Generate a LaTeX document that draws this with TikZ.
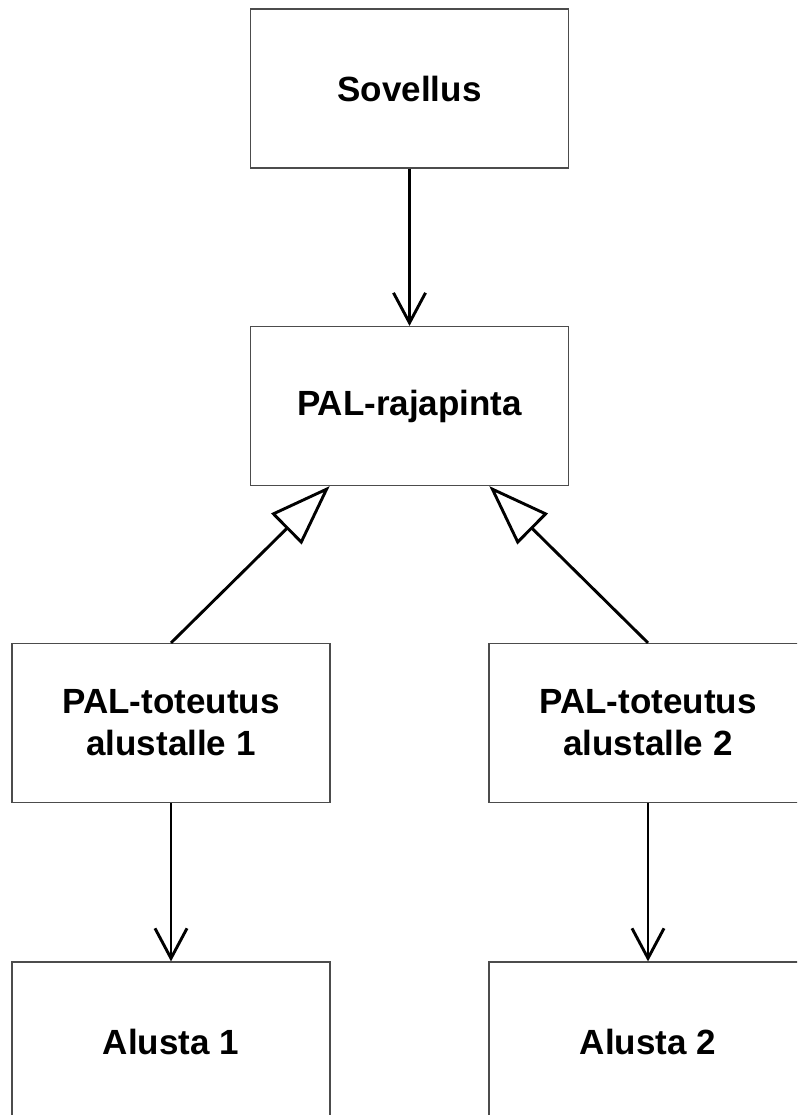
\documentclass[tikz,border=0pt]{standalone}
\usepackage{fontspec}
\setmainfont{Liberation Sans}
\usetikzlibrary{arrows.meta,calc}
\begin{document}
\begin{tikzpicture}[x=1pt,y=-1pt,
  box/.style={draw=black!70, line width=1.2pt, fill=white, minimum width=318pt,
    minimum height=159pt, inner sep=0pt, align=center,
    font=\fontsize{35}{42}\selectfont\bfseries},
  uses/.style={draw=black, line width=2.9pt, -{Straight Barb[length=30pt,width=32pt,line width=2.9pt]}},
  realizes/.style={draw=black, line width=2.9pt, -{Triangle[open,length=61pt,width=43pt,line width=2.9pt,fill=white]}}]
\useasboundingbox (0,0) rectangle (797,1115);
\clip (0,0) rectangle (797,1115);
\fill[white] (0,0) rectangle (797,1115);

% components
\node[box] (app)   at (409.5,88.5)  {Sovellus};
\node[box] (pal)   at (409.5,406)   {PAL-rajapinta};
\node[box] (impl1) at (171,723)     {PAL-toteutus\\alustalle 1};
\node[box] (impl2) at (648,723)     {PAL-toteutus\\alustalle 2};
\node[box] (plat1) at (171,1041.5)  {Alusta 1};
\node[box] (plat2) at (648,1041.5)  {Alusta 2};

% attachment points on the interface
\coordinate (palL) at ($(pal.south west)!0.25!(pal.south east)$);
\coordinate (palR) at ($(pal.south west)!0.75!(pal.south east)$);

% dependencies
\draw[uses] (app.south) -- (pal.north);
\draw[uses] (impl1.south) -- (plat1.north);
\draw[uses] (impl2.south) -- (plat2.north);

% realizations
\draw[realizes] (impl1.north) -- (palL);
\draw[realizes] (impl2.north) -- (palR);
\end{tikzpicture}
\end{document}
